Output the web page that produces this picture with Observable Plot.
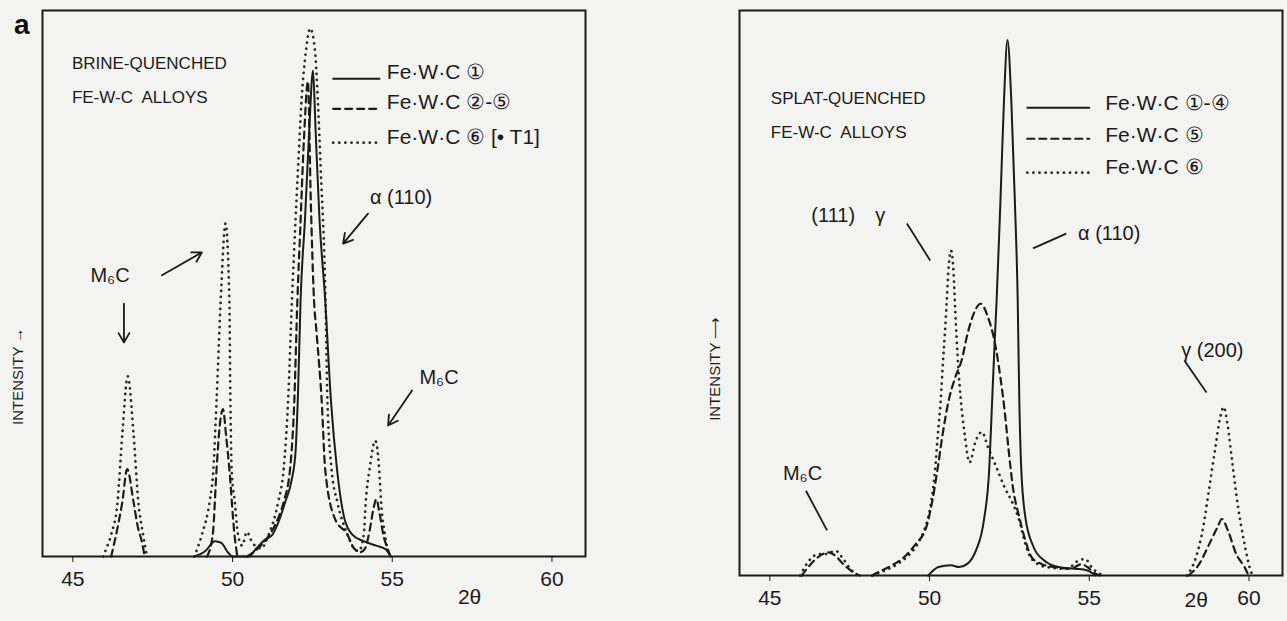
<!DOCTYPE html>
<html><head><meta charset="utf-8">
<script src="https://cdn.jsdelivr.net/npm/d3@7"></script>
<script src="https://cdn.jsdelivr.net/npm/@observablehq/plot@0.6"></script>
<style>
html,body{margin:0;padding:0;background:#f3f3f1;}
#wrap{position:relative;width:1287px;height:621px;overflow:hidden;background:#f3f3f1;}
#left{position:absolute;left:0;top:0;}
#right{position:absolute;left:640px;top:0;}
</style></head>
<body><div id="wrap"><div id="left"></div><div id="right"></div></div>
<script>
// ---------- data (2θ in degrees, intensity in arbitrary units 0–100) ----------
const xTicks = [45, 50, 55, 60];

// Brine-quenched (panel a, left)
const brineSolid = [[48.8,0],[49.15,1],[49.45,2.8],[49.65,2.5],[49.85,0.8],[50.0,0],[50.5,0],[50.75,1.5],[51.0,3],[51.25,4],[51.45,6.5],[51.65,10],[51.85,14],[51.97,19],[52.05,30],[52.13,47],[52.27,62],[52.4,78],[52.52,89],[52.6,78],[52.72,62],[52.9,47],[53.08,28.6],[53.27,16],[53.5,7],[53.75,4],[54.1,2.8],[54.5,2],[54.8,1.3],[54.95,0]];
const brineDash = [[46.2,0],[46.4,5.3],[46.55,10],[46.7,16],[46.9,10],[47.05,5],[47.15,3],[47.25,0],[47.3,null],
  [49.2,0],[49.38,4],[49.5,16],[49.6,24],[49.7,27],[49.8,22],[49.9,16],[50.06,4],[50.15,0],[50.2,null],
  [50.45,0],[50.8,1.5],[51.1,3.5],[51.35,6],[51.6,10],[51.8,16],[51.93,28],[52.03,47],[52.12,60],[52.24,77],[52.36,87],[52.45,65],[52.55,47],[52.63,41],[52.79,28.6],[52.9,16],[53.2,7],[53.6,4],[53.8,1.5],[54.0,0.8],[54.15,1.5],[54.3,5],[54.42,9],[54.5,10.5],[54.6,8],[54.72,4],[54.85,1.5],[54.95,0]];
const brineDot = [[45.95,0],[46.05,1.5],[46.2,4],[46.4,10],[46.55,22.5],[46.72,33],[46.9,22.5],[47.05,10],[47.2,4],[47.32,0],[47.4,null],
  [48.8,0],[49.04,4],[49.28,10],[49.4,16],[49.5,28.6],[49.63,47],[49.78,61],[49.9,47],[49.93,30],[49.97,16],[50.07,10],[50.17,4],[50.3,2],[50.45,4.5],[50.62,2.5],[50.9,1.5],[51.13,4],[51.43,10],[51.6,16],[51.74,28.6],[51.86,47],[52.05,71],[52.16,83.5],[52.3,92.7],[52.43,96.7],[52.58,92.7],[52.67,83.5],[52.76,71],[52.91,47],[52.97,28.6],[53.1,16],[53.28,10],[53.6,4],[53.8,1.5],[53.95,1],[54.11,4],[54.17,10],[54.29,16],[54.47,21.2],[54.59,16],[54.65,10],[54.77,4],[54.9,0]];

// Splat-quenched (right)
const splatSolid = [[49.96,0],[50.28,1.5],[50.67,1.8],[50.93,1.5],[51.19,2.1],[51.45,4.4],[51.7,9.7],[51.87,19],[51.96,31],[52.05,42.8],[52.1,48.7],[52.22,66.4],[52.33,84],[52.44,94.8],[52.56,84],[52.67,66.4],[52.76,48.7],[52.81,31],[52.87,19],[53.0,10.3],[53.26,5],[53.58,2.7],[54.04,1.5],[54.55,1.2],[54.94,0.9],[55.2,0]];
const splatDash = [[46.0,0],[46.4,2.7],[46.66,3.8],[46.85,4.1],[47.05,3.5],[47.3,2],[47.7,0.3],[47.82,0],[47.9,null],
  [48.2,0],[48.4,0.6],[48.73,1.5],[49.25,3.5],[49.57,5.6],[49.9,8.6],[50.09,13.3],[50.26,19.2],[50.41,25],[50.6,31],[50.8,35],[51.0,38],[51.19,42.8],[51.38,46.3],[51.6,48.1],[51.83,45.7],[52.03,41.6],[52.22,35],[52.35,29.2],[52.48,22],[52.61,15.6],[52.81,10.3],[53.0,6.2],[53.2,3.2],[53.52,2],[53.9,1.5],[54.42,1.2],[54.75,2],[54.94,1.5],[55.2,0.3],[55.33,0],[55.4,null],
  [58.11,0],[58.44,2],[58.76,5.6],[59.02,8.6],[59.15,10],[59.34,8],[59.6,3.8],[59.86,1.5],[59.99,0]];
const splatDot = [[45.95,0],[46.27,2.9],[46.53,3.8],[46.79,3.8],[47.05,4.4],[47.3,2.9],[47.56,0.9],[47.76,0],[47.8,null],
  [48.21,0],[48.6,0.9],[48.99,2],[49.38,3.8],[49.63,5.6],[49.83,8],[49.96,10.3],[50.02,12],[50.18,19.2],[50.26,25],[50.35,31],[50.41,36.9],[50.48,42.8],[50.54,48.7],[50.6,54.7],[50.67,57.5],[50.74,54.7],[50.79,48.7],[50.84,42.8],[50.9,36.9],[50.98,31],[51.1,25],[51.25,20],[51.45,23.9],[51.64,25.4],[51.83,22.7],[52.09,19.2],[52.35,15.6],[52.61,12.7],[52.81,9.7],[53.0,5.6],[53.2,2.9],[53.65,1.5],[54.3,1.2],[54.68,2.7],[54.88,2.9],[55.07,1.5],[55.33,0.3],[55.52,0],[55.6,null],
  [58.05,0],[58.31,2.7],[58.57,8.6],[58.76,15.6],[58.95,22.7],[59.08,27.4],[59.21,29.8],[59.34,26.3],[59.47,20.4],[59.66,12.1],[59.86,5.6],[60.05,0.9],[60.12,0]];

// Text annotations (in data units)
const brineTitle = [{x:44.97,y:90.3,t:"BRINE-QUENCHED"},{x:44.97,y:84.1,t:"FE-W-C  ALLOYS"}];
const brineLegend = [{x:54.83,y:88.6,t:"Fe·W·C ①",s:"solid",ly:87.5},{x:54.83,y:83.2,t:"Fe·W·C ②-⑤",s:"dash",ly:82},{x:54.83,y:76.7,t:"Fe·W·C ⑥ [• T1]",s:"dot",ly:75.8}];
const brineLegendX = [53.15, 54.6];
const brineNotes = [{x:54.3,y:65.8,t:"α (110)"},{x:45.55,y:51.5,t:"M₆C"},{x:55.85,y:32.8,t:"M₆C"}];
const brineArrows = [{x1:54.24,y1:62.8,x2:53.46,y2:57.3},{x1:47.79,y1:51.5,x2:49.04,y2:55.7},{x1:46.6,y1:46.3,x2:46.6,y2:39.2},{x1:55.62,y1:30.4,x2:54.87,y2:24}];

const splatTitle = [{x:45.03,y:84.4,t:"SPLAT-QUENCHED"},{x:45.03,y:78.4,t:"FE-W-C  ALLOYS"}];
const splatLegend = [{x:55.5,y:83.5,t:"Fe·W·C ①-④",s:"solid",ly:82.8},{x:55.5,y:77.9,t:"Fe·W·C ⑤",s:"dash",ly:77.3},{x:55.5,y:72.2,t:"Fe·W·C ⑥",s:"dot",ly:71.3}];
const splatLegendX = [53.06, 55.0];
const splatNotes = [{x:46.3,y:63.7,t:"(111)"},{x:48.3,y:63.7,t:"γ"},{x:54.65,y:60.5,t:"α (110)"},{x:45.41,y:18.0,t:"M₆C"},{x:57.88,y:39.8,t:"γ (200)"}];
const splatLinks = [{x1:49.29,y1:62.3,x2:50.02,y2:55.75},{x1:54.28,y1:60.5,x2:53.24,y2:57.9},{x1:46.13,y1:15.0,x2:46.79,y2:8.0},{x1:57.98,y1:38.05,x2:58.67,y2:32.4}];

// ---------- drawing ----------
const INK = "#1b1b1b";
const FONT = "'Liberation Sans', Arial, sans-serif";
const toPts = a => a.map(([x, y]) => ({x, y}));
const styles = {
  solid: {stroke: INK, strokeWidth: 2},
  dash: {stroke: INK, strokeWidth: 2.2, strokeDasharray: "7,5"},
  dot: {stroke: "#2a2a2a", strokeWidth: 2.7, strokeDasharray: "0.1,6", strokeLinecap: "round"}
};
function seriesMarks(solid, dash, dot) {
  return [
    Plot.line(toPts(dot), {x: "x", y: "y", curve: "monotone-x", ...styles.dot}),
    Plot.line(toPts(dash), {x: "x", y: "y", curve: "monotone-x", ...styles.dash}),
    Plot.line(toPts(solid), {x: "x", y: "y", curve: "monotone-x", ...styles.solid})
  ];
}
function legendMarks(items, lx) {
  const marks = [];
  for (const it of items) {
    marks.push(Plot.line([{x: lx[0], y: it.ly}, {x: lx[1], y: it.ly}], {x: "x", y: "y", ...styles[it.s]}));
  }
  marks.push(Plot.text(items, {x: "x", y: "y", text: "t", textAnchor: "start", fontSize: 21, fill: INK}));
  return marks;
}
function makePlot(opts) {
  return Plot.plot({
    width: opts.width, height: 621,
    marginLeft: opts.ml, marginRight: opts.mr, marginTop: 10, marginBottom: opts.mb,
    style: {fontFamily: FONT, fontSize: "21px", color: INK, background: "transparent", overflow: "visible"},
    x: {domain: [44.05, 61.05], ticks: xTicks, tickSize: 6, tickPadding: 9, label: null, tickFormat: d => String(d)},
    y: {domain: [0, 100], axis: null},
    marks: [
      Plot.frame({stroke: INK, strokeWidth: 2}),
      ...seriesMarks(opts.solid, opts.dash, opts.dot),
      ...legendMarks(opts.legend, opts.legendX),
      Plot.text(opts.title, {x: "x", y: "y", text: "t", textAnchor: "start", fontSize: 17, fill: INK}),
      Plot.text(opts.notes, {x: "x", y: "y", text: "t", textAnchor: "start", fontSize: 20, fill: INK}),
      Plot.text([opts.twoTheta], {x: "x", y: "y", text: d => "2θ", fontSize: 21, fill: INK}),
      Plot.text([opts.intensity], {x: "x", y: "y", text: "t", rotate: -90, fontSize: 15, fill: INK}),
      ...opts.extra
    ]
  });
}

const left = makePlot({
  width: 640, ml: 42, mr: 55, mb: 65,
  solid: brineSolid, dash: brineDash, dot: brineDot,
  legend: brineLegend, legendX: brineLegendX, title: brineTitle, notes: brineNotes,
  twoTheta: {x: 57.42, y: -7.5}, intensity: {x: 43.28, y: 33, t: "INTENSITY →"},
  extra: [
    Plot.arrow(brineArrows, {x1: "x1", y1: "y1", x2: "x2", y2: "y2", stroke: INK, strokeWidth: 1.8, headLength: 9}),
    Plot.text([{x: 43.4, y: 97.3}], {x: "x", y: "y", text: d => "a", fontSize: 28, fontWeight: "bold", fontFamily: "Arial, 'Liberation Sans', sans-serif", fill: "#111"})
  ]
});
document.getElementById("left").appendChild(left);

const right = makePlot({
  width: 647, ml: 99, mr: 5, mb: 46,
  solid: splatSolid, dash: splatDash, dot: splatDot,
  legend: splatLegend, legendX: splatLegendX, title: splatTitle, notes: splatNotes,
  twoTheta: {x: 58.35, y: -4.4}, intensity: {x: 43.28, y: 36.6, t: "INTENSITY ⟶"},
  extra: [
    Plot.link(splatLinks, {x1: "x1", y1: "y1", x2: "x2", y2: "y2", stroke: INK, strokeWidth: 1.8})
  ]
});
document.getElementById("right").appendChild(right);
</script>
</body></html>
